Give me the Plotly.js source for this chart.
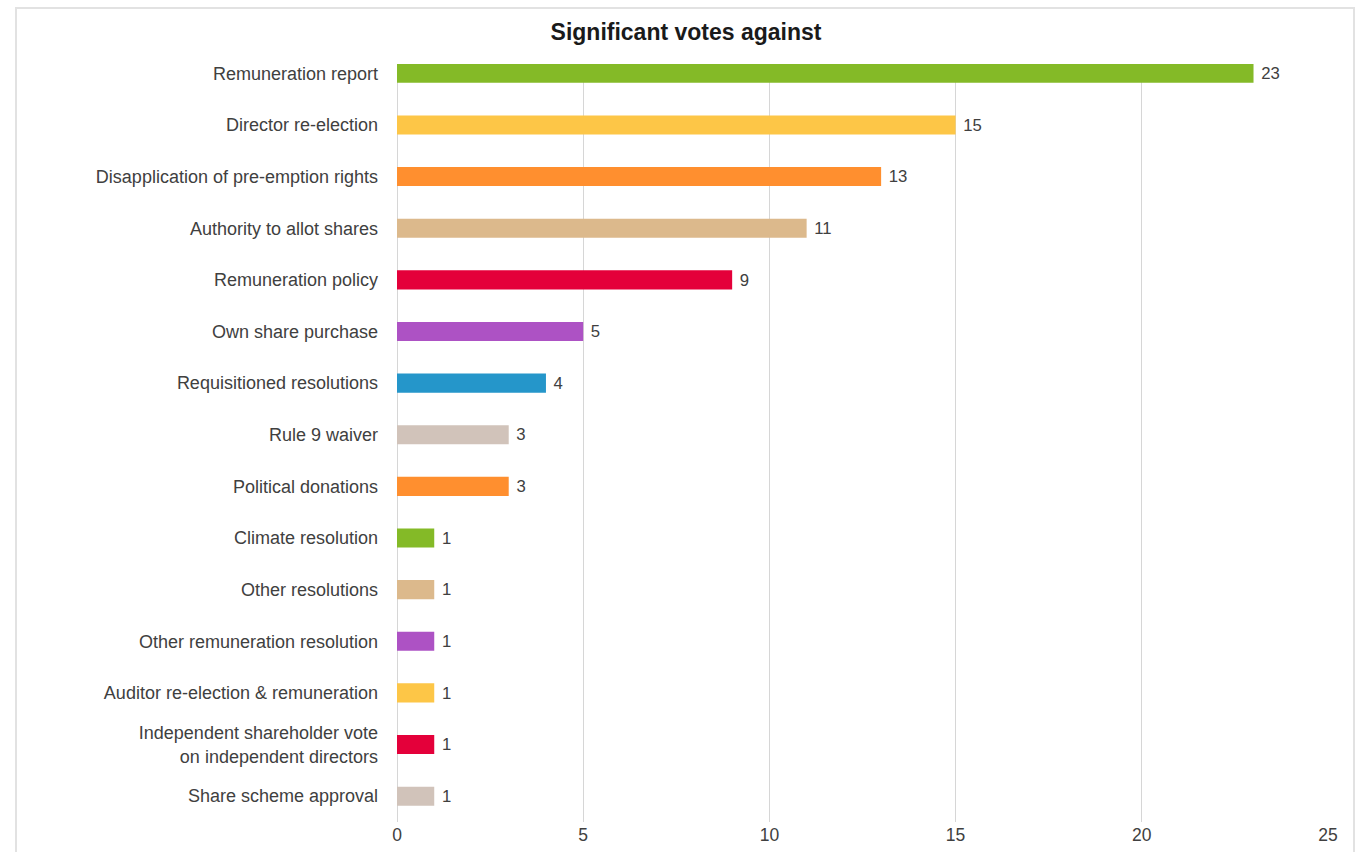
<!DOCTYPE html>
<html>
<head>
<meta charset="utf-8">
<script src="https://cdn.plot.ly/plotly-3.0.1.min.js"></script>
<style>
html,body{margin:0;padding:0;background:#fff;overflow:hidden;}
#frame{position:absolute;left:15px;top:7px;width:1340px;height:870px;border:2px solid #e2e2e2;box-sizing:border-box;}
#chart{position:absolute;left:0;top:0;width:1368px;height:852px;}
</style>
</head>
<body>
<div id="frame"></div>
<div id="chart"></div>
<script>
const categories = [
  "Remuneration report",
  "Director re-election",
  "Disapplication of pre-emption rights",
  "Authority to allot shares",
  "Remuneration policy",
  "Own share purchase",
  "Requisitioned resolutions",
  "Rule 9 waiver",
  "Political donations",
  "Climate resolution",
  "Other resolutions",
  "Other remuneration resolution",
  "Auditor re-election & remuneration",
  "Independent shareholder vote<br>on independent directors",
  "Share scheme approval"
];
const votes = [23, 15, 13, 11, 9, 5, 4, 3, 3, 1, 1, 1, 1, 1, 1];
const barColors = [
  "#84BA27", "#FDC647", "#FF8F2F", "#DCB98C", "#E4003A",
  "#AD52C4", "#2596CA", "#D1C3BA", "#FF8F2F", "#84BA27",
  "#DCB98C", "#AD52C4", "#FDC647", "#E4003A", "#D1C3BA"
];
const xTicks = [0, 5, 10, 15, 20, 25];

const trace = {
  type: "bar",
  orientation: "h",
  y: categories,
  x: votes,
  text: votes.map(v => "\u00a0" + v),
  textposition: "outside",
  cliponaxis: false,
  textfont: {family: "Liberation Sans, Arial, sans-serif", size: 17.5, color: "#404040"},
  marker: {color: barColors},
  width: 0.37,
  hoverinfo: "x+y"
};

const layout = {
  width: 1368,
  height: 852,
  paper_bgcolor: "rgba(0,0,0,0)",
  plot_bgcolor: "rgba(0,0,0,0)",
  margin: {l: 397, r: 40, t: 64, b: 30, pad: 0},
  showlegend: false,
  title: {
    text: "<b>Significant votes against</b>",
    x: 0.5015, xref: "container", xanchor: "center",
    y: 0.963, yref: "container", yanchor: "middle",
    font: {family: "Liberation Sans, Arial, sans-serif", size: 23, color: "#1a1a1a"}
  },
  font: {family: "Liberation Sans, Arial, sans-serif", size: 18, color: "#404040"},
  xaxis: {
    range: [0, 25],
    tickvals: xTicks,
    ticktext: xTicks.map(String),
    showgrid: true,
    gridcolor: "#d6d6d6",
    gridwidth: 1,
    zeroline: true,
    zerolinecolor: "#d6d6d6",
    zerolinewidth: 1,
    showline: false,
    ticks: "",
    tickfont: {size: 17.5, color: "#404040"},
    fixedrange: true
  },
  yaxis: {
    type: "category",
    range: [14.5, -0.18],
    autorange: false,
    showgrid: false,
    zeroline: false,
    showline: false,
    ticks: "",
    ticklabelstandoff: 18,
    tickfont: {size: 18, color: "#404040"},
    fixedrange: true
  }
};

Plotly.newPlot("chart", [trace], layout, {displayModeBar: false, staticPlot: true});
</script>
</body>
</html>
